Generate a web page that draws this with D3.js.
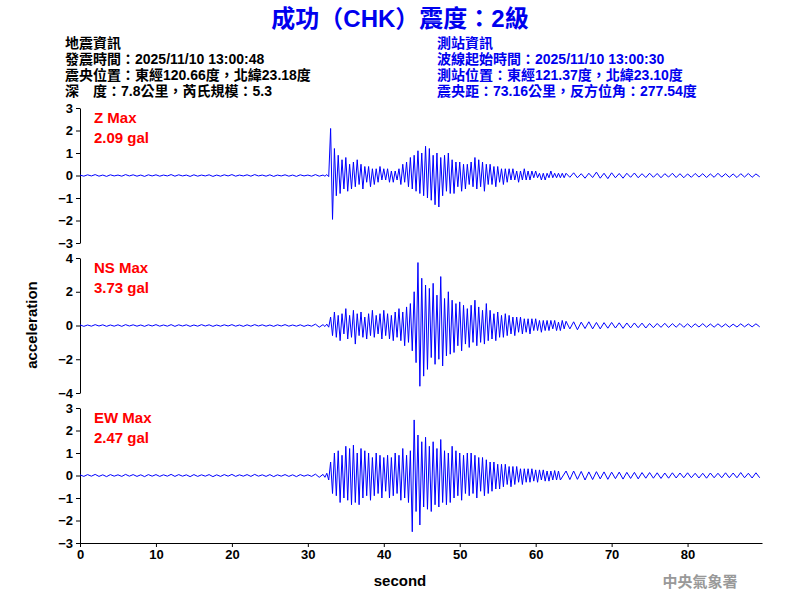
<!DOCTYPE html>
<html><head><meta charset="utf-8">
<script src="https://cdn.jsdelivr.net/npm/d3@7"></script>
<style>body{margin:0;background:#fff}svg{font-family:Arial,"Liberation Sans","Noto Sans CJK TC",sans-serif}</style>
</head><body><svg id="c" width="800" height="600"></svg>
<script>
const title = "成功（CHK）震度：2級";
const infoLeft = ["地震資訊","發震時間：2025/11/10 13:00:48","震央位置：東經120.66度，北緯23.18度","深　度：7.8公里，芮氏規模：5.3"];
const infoRight = ["測站資訊","波線起始時間：2025/11/10 13:00:30","測站位置：東經121.37度，北緯23.10度","震央距：73.16公里，反方位角：277.54度"];
const channels = ["Z","NS","EW"];
const maxLabels = ["2.09 gal","3.73 gal","2.47 gal"];
const yLimits = [3,4,3];
const yTicks = [[-3,-2,-1,0,1,2,3],[-4,-2,0,2,4],[-3,-2,-1,0,1,2,3]];
const xTicks = [0,10,20,30,40,50,60,70,80];
const zPre = [0.02,-0.03,0.03,-0.02,0.04,-0.03,0.02,-0.04,0.03,-0.02,0.02,-0.03,0.04,-0.02,0.03,-0.03,0.02,-0.04,0.03,-0.02,0.03,-0.03,0.02,-0.02,0.04,-0.03,0.03,-0.02,0.02,-0.04,0.03,-0.03,0.02,-0.02,0.03,-0.04,0.02,-0.03,0.03,-0.02,0.04,-0.03,0.02,-0.02,0.03,-0.03,0.04,-0.02,0.02,-0.03,0.03,-0.04,0.02,-0.02,0.03,-0.03,0.02,-0.04,0.03,-0.02,0.02,-0.03,0.04,-0.03];
const zAct = [0.02,-0.03,0.04,-0.05,2.09,-1.95,1.2,-0.9,0.9,-0.8,0.7,-0.6,0.8,-0.7,0.5,-0.6,0.6,-0.5,0.7,-0.4,0.5,-0.6,0.4,-0.3,0.4,-0.5,0.3,-0.4,0.3,-0.3,0.4,-0.2,0.3,-0.2,0.3,-0.3,0.2,-0.3,0.2,-0.2,0.3,-0.4,0.5,-0.3,0.6,-0.5,0.8,-0.6,0.9,-0.7,1.1,-0.8,1.0,-0.9,1.3,-1.0,1.2,-1.1,0.9,-1.3,1.0,-1.4,0.8,-0.9,0.9,-0.7,1.0,-0.8,0.7,-0.8,0.6,-0.5,0.6,-0.7,0.5,-0.6,0.5,-0.4,0.6,-0.5,0.8,-0.6,0.7,-0.5,0.6,-0.7,0.5,-0.4,0.5,-0.4,0.4,-0.5,0.4,-0.3,0.3,-0.4,0.3,-0.3,0.3,-0.2,0.3,-0.2,0.2,-0.3,0.2,-0.2,0.3,-0.2,0.2,-0.2,0.2,-0.1,0.2,-0.1,0.1,-0.2,0.1,-0.2,0.1,-0.1,0.2,-0.1,0.1,-0.1,0.1,-0.1,0.1,-0.1];
const zTail = [0.1,-0.08,0.12,-0.1,0.08,-0.12,0.1,-0.09,0.15,-0.12,0.1,-0.14,0.12,-0.1,0.09,-0.12,0.1,-0.08,0.11,-0.1,0.08,-0.09,0.1,-0.08,0.09,-0.1,0.08,-0.07,0.1,-0.09,0.08,-0.1,0.07,-0.08,0.09,-0.07,0.08,-0.09,0.07,-0.08,0.1,-0.07,0.08,-0.08,0.07,-0.09,0.08,-0.07,0.09,-0.08,0.07,-0.06];
const nsPre = [0.04,-0.05,0.03,-0.04,0.05,-0.03,0.04,-0.05,0.03,-0.04,0.04,-0.05,0.05,-0.03,0.04,-0.04,0.03,-0.05,0.04,-0.03,0.05,-0.04,0.03,-0.04,0.05,-0.05,0.04,-0.03,0.04,-0.05,0.03,-0.04,0.05,-0.03,0.04,-0.05,0.03,-0.04,0.04,-0.03,0.05,-0.04,0.03,-0.05,0.04,-0.04,0.05,-0.03,0.04,-0.04,0.03,-0.05,0.04,-0.03,0.05,-0.04,0.03,-0.04,0.04,-0.05,0.03,-0.04,0.08,-0.1];
const nsAct = [0.05,-0.06,0.08,-0.1,0.5,-0.6,0.8,-0.7,0.6,-0.9,0.7,-0.5,1.0,-0.8,0.6,-0.7,0.9,-1.1,0.7,-0.6,0.8,-0.7,0.5,-0.8,0.7,-0.6,0.9,-0.7,0.6,-0.5,0.7,-0.8,0.9,-0.6,0.7,-0.8,0.6,-0.9,0.8,-0.7,1.0,-0.9,0.8,-1.2,1.1,-1.0,1.3,-1.5,2.0,-2.2,3.73,-3.6,2.8,-3.0,2.4,-2.6,2.2,-1.9,2.5,-2.3,1.8,-2.0,2.9,-2.4,1.6,-1.8,2.0,-1.7,1.5,-1.6,1.3,-1.2,1.4,-1.5,1.2,-1.1,1.0,-1.3,1.2,-1.0,1.5,-1.2,1.1,-1.0,0.9,-1.1,1.3,-0.9,0.9,-0.8,0.7,-0.9,0.8,-0.7,0.6,-0.7,0.7,-0.6,0.6,-0.5,0.5,-0.6,0.5,-0.4,0.5,-0.5,0.4,-0.4,0.4,-0.5,0.4,-0.3,0.4,-0.3,0.3,-0.4,0.3,-0.3,0.3,-0.3,0.3,-0.2,0.3,-0.3,0.2,-0.3,0.3,-0.2];
const nsTail = [0.25,-0.2,0.22,-0.25,0.2,-0.18,0.22,-0.2,0.18,-0.2,0.17,-0.16,0.18,-0.15,0.16,-0.17,0.15,-0.14,0.15,-0.13,0.14,-0.15,0.12,-0.13,0.12,-0.11,0.13,-0.12,0.11,-0.1,0.12,-0.11,0.1,-0.11,0.1,-0.09,0.11,-0.1,0.09,-0.1,0.1,-0.09,0.09,-0.1,0.08,-0.09,0.1,-0.08,0.09,-0.08,0.1,-0.08];
const ewPre = [0.03,-0.04,0.04,-0.03,0.05,-0.04,0.03,-0.05,0.04,-0.03,0.03,-0.04,0.05,-0.03,0.04,-0.04,0.03,-0.05,0.04,-0.03,0.04,-0.04,0.03,-0.03,0.05,-0.04,0.04,-0.03,0.03,-0.05,0.04,-0.04,0.03,-0.03,0.04,-0.05,0.03,-0.04,0.04,-0.03,0.05,-0.04,0.03,-0.03,0.04,-0.04,0.05,-0.03,0.03,-0.04,0.04,-0.05,0.03,-0.03,0.04,-0.04,0.03,-0.05,0.04,-0.03,0.03,-0.04,0.06,-0.08];
const ewAct = [0.05,-0.08,0.1,-0.2,0.6,-0.8,1.0,-0.9,1.1,-1.2,0.9,-1.0,1.3,-1.1,1.2,-1.3,1.35,-1.2,1.0,-1.3,1.2,-1.0,1.1,-0.9,1.0,-1.1,0.8,-0.9,1.0,-0.8,0.9,-1.0,0.8,-0.7,0.9,-1.0,0.8,-0.9,1.0,-0.8,0.9,-1.1,1.2,-1.0,0.9,-1.2,1.1,-2.5,2.47,-1.6,1.8,-2.2,1.5,-1.4,1.7,-1.5,1.3,-1.6,1.5,-1.3,1.2,-1.4,1.6,-1.2,1.1,-1.3,1.0,-1.2,1.3,-1.0,1.1,-0.9,1.0,-1.1,0.9,-0.8,1.0,-0.9,1.0,-0.8,0.9,-1.0,0.8,-0.7,0.8,-0.9,0.7,-0.8,0.6,-0.7,0.6,-0.6,0.5,-0.6,0.5,-0.5,0.5,-0.4,0.4,-0.5,0.4,-0.4,0.4,-0.3,0.3,-0.4,0.3,-0.3,0.3,-0.3,0.3,-0.25,0.25,-0.3,0.25,-0.2,0.25,-0.25,0.2,-0.25,0.2,-0.2,0.22,-0.2,0.2,-0.2];
const ewTail = [0.2,-0.18,0.2,-0.17,0.18,-0.2,0.16,-0.18,0.17,-0.15,0.16,-0.17,0.15,-0.14,0.15,-0.16,0.14,-0.13,0.14,-0.15,0.13,-0.12,0.13,-0.12,0.12,-0.13,0.11,-0.12,0.12,-0.11,0.11,-0.1,0.12,-0.1,0.1,-0.11,0.1,-0.12,0.11,-0.1,0.1,-0.1,0.12,-0.1,0.11,-0.1,0.13,-0.1,0.1,-0.11,0.12,-0.1];
const series = [[zPre,zAct,zTail],[nsPre,nsAct,nsTail],[ewPre,ewAct,ewTail]];

const svg = d3.select("#c");
const x = d3.scaleLinear().domain([0,89.8]).range([80,762]);
const panelTops = [108,258,408], panelH = 135;
function toPts(seg){
  const pts=[];
  seg[0].forEach((v,i)=>pts.push([i*0.5,v]));
  seg[1].forEach((v,i)=>pts.push([32+i*0.25,v]));
  seg[2].forEach((v,i)=>pts.push([64+i*0.5,v]));
  return pts;
}
channels.forEach((ch,k)=>{
  const y = d3.scaleLinear().domain([-yLimits[k],yLimits[k]]).range([panelTops[k]+panelH,panelTops[k]]);
  svg.append("g").attr("transform","translate(80,0)")
    .call(d3.axisLeft(y).tickValues(yTicks[k]).tickFormat(d3.format("d")).tickSize(4).tickSizeOuter(0))
    .call(g=>g.selectAll("text").attr("font-size",13).attr("font-weight","bold").attr("fill","#000"))
    .call(g=>g.selectAll("path,line").attr("stroke","#000"));
  svg.append("path").datum(toPts(series[k]))
    .attr("fill","none").attr("stroke","#0000ff").attr("stroke-width",1)
    .attr("d",d3.line().x(d=>x(d[0])).y(d=>y(d[1])));
  svg.append("text").attr("x",94).attr("y",panelTops[k]+15).attr("fill","#f00").attr("font-size",15).attr("font-weight","bold").text(ch+" Max");
  svg.append("text").attr("x",94).attr("y",panelTops[k]+35).attr("fill","#f00").attr("font-size",15).attr("font-weight","bold").text(maxLabels[k]);
});
svg.append("g").attr("transform","translate(0,543)")
  .call(d3.axisBottom(x).tickValues(xTicks).tickSize(4).tickSizeOuter(0))
  .call(g=>g.selectAll("text").attr("font-size",13).attr("font-weight","bold").attr("fill","#000"))
  .call(g=>g.selectAll("path,line").attr("stroke","#000"));
svg.append("text").attr("x",400).attr("y",27).attr("text-anchor","middle").attr("fill","#0000ee").attr("font-size",24).attr("font-weight","bold").text(title);
infoLeft.forEach((t,i)=>svg.append("text").attr("x",65).attr("y",48+i*16).attr("font-size",14).attr("font-weight","bold").attr("fill","#000").text(t));
infoRight.forEach((t,i)=>svg.append("text").attr("x",437).attr("y",48+i*16).attr("font-size",14).attr("font-weight","bold").attr("fill","#0000ee").text(t));
svg.append("text").attr("transform","translate(37,325) rotate(-90)").attr("text-anchor","middle").attr("font-size",15).attr("font-weight","bold").text("acceleration");
svg.append("text").attr("x",400).attr("y",586).attr("text-anchor","middle").attr("font-size",15).attr("font-weight","bold").text("second");
svg.append("text").attr("x",700).attr("y",587).attr("text-anchor","middle").attr("font-size",15).attr("font-weight","bold").attr("fill","#999").text("中央氣象署");
</script></body></html>
